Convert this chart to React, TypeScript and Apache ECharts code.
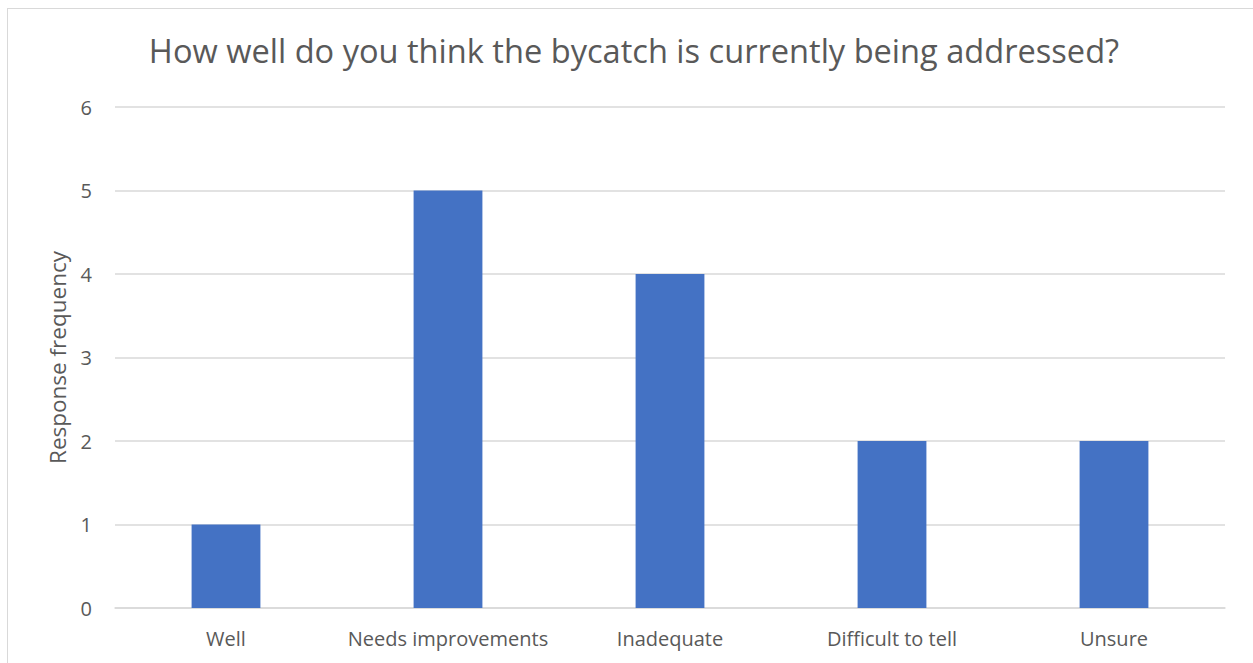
import React, { useEffect, useRef } from "react";
import * as echarts from "echarts";

const categories = ["Well", "Needs improvements", "Inadequate", "Difficult to tell", "Unsure"];
const responses = [1, 5, 4, 2, 2];
const titleText = "How well do you think the bycatch is currently being addressed?";
const yAxisTitle = "Response frequency";

const FONT = "'Open Sans', 'Liberation Sans', sans-serif";

export default function App() {
  const ref = useRef<HTMLDivElement>(null);

  useEffect(() => {
    if (!ref.current) return;
    const chart = echarts.init(ref.current, undefined, { renderer: "svg" });
    chart.setOption({
      animation: false,
      backgroundColor: "transparent",
      title: {
        text: titleText,
        left: 629,
        textAlign: "center",
        top: 29,
        textStyle: { fontFamily: FONT, fontSize: 32.6, fontWeight: "normal", color: "#595959" },
      },
      grid: { left: 115, right: 28, top: 107, bottom: 55, containLabel: false },
      xAxis: {
        type: "category",
        data: categories,
        axisLine: { show: true, lineStyle: { color: "#d9d9d9", width: 1.5 } },
        axisTick: { show: false },
        axisLabel: { fontFamily: FONT, fontSize: 20, color: "#595959", margin: 20, interval: 0 },
      },
      yAxis: {
        type: "value",
        min: 0,
        max: 6,
        interval: 1,
        name: yAxisTitle,
        nameLocation: "middle",
        nameRotate: 90,
        nameGap: 46,
        nameTextStyle: { fontFamily: FONT, fontSize: 22.5, color: "#595959" },
        axisLine: { show: false },
        axisTick: { show: false },
        axisLabel: { fontFamily: FONT, fontSize: 20, color: "#595959", margin: 23 },
        splitLine: { lineStyle: { color: "#d9d9d9", width: 1.5 } },
      },
      series: [
        {
          type: "bar",
          data: responses,
          barWidth: "31%",
          itemStyle: { color: "#4472C4" },
        },
      ],
    });
    return () => chart.dispose();
  }, []);

  return (
    <div>
      <div
        style={{
          position: "fixed",
          left: 7,
          top: 8,
          width: 1300,
          height: 700,
          border: "1.5px solid #d9d9d9",
          background: "#fff",
        }}
      />
      <div ref={ref} style={{ position: "fixed", left: 0, top: 0, width: 1253, height: 663 }} />
    </div>
  );
}
